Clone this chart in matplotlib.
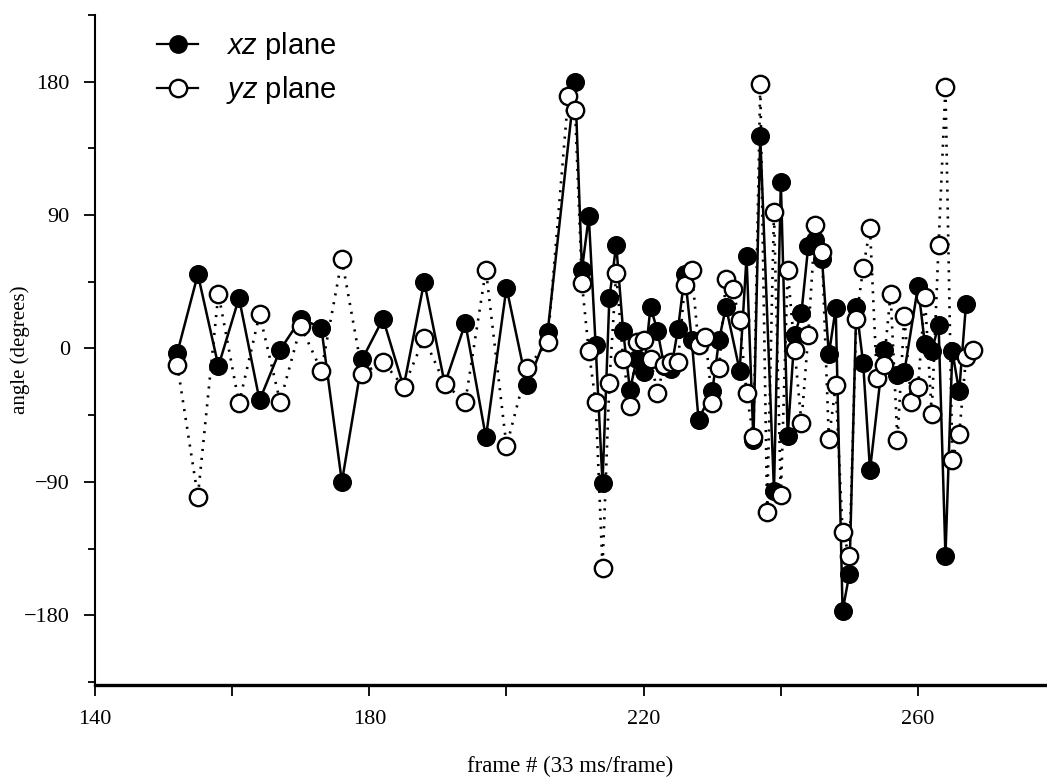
import matplotlib
matplotlib.use("Agg")
import matplotlib.pyplot as plt
from matplotlib.lines import Line2D
import numpy as np

# frames 152..206 were sampled every 3 frames, then every frame from 209 on
xz_frames = [152, 155, 158, 161, 164, 167, 170, 173, 176, 179, 182, 185, 188, 191, 194, 197, 200, 203, 206,
             210, 211, 212, 213, 214, 215, 216, 217, 218, 219, 220, 221, 222, 223, 224, 225, 226, 227, 228,
             230, 231, 232, 234, 235, 236, 237, 239, 240, 241, 242, 243, 244, 245, 246, 247, 248, 249, 250,
             251, 252, 253, 255, 257, 258, 260, 261, 262, 263, 264, 265, 266, 267]
xz_angle = [-3, 50, -12, 34, -35, -1, 20, 14, -90, -7, 20, -26, 45, -24, 17, -60, 41, -25, 11,
            180, 53, 89, 2, -91, 34, 70, 12, -28, -7, -16, 28, 12, -12, -14, 13, 50, 6, -48,
            -29, 6, 28, -15, 62, -62, 143, -96, 112, -59, 9, 24, 69, 73, 60, -4, 27, -177, -152,
            28, -10, -82, -1, -18, -16, 42, 3, -2, 16, -140, -2, -29, 30]

yz_frames = [152, 155, 158, 161, 164, 167, 170, 173, 176, 179, 182, 185, 188, 191, 194, 197, 200, 203, 206,
             209, 210, 211, 212, 213, 214, 215, 216, 217, 218, 219, 220, 221, 222, 223, 224, 225, 226, 227,
             228, 229, 230, 231, 232, 233, 234, 235, 236, 237, 238, 239, 240, 241, 242, 243, 244, 245, 246,
             247, 248, 249, 250, 251, 252, 253, 254, 255, 256, 257, 258, 259, 260, 261, 262, 263, 264, 265,
             266, 267, 268]
yz_angle = [-11, -100, 37, -37, 23, -36, 15, -15, 60, -17, -9, -26, 7, -24, -36, 53, -66, -13, 4,
            170, 161, 44, -2, -36, -148, -23, 51, -7, -39, 4, 6, -7, -30, -11, -9, -9, 43, 53,
            2, 8, -37, -13, 47, 40, 19, -30, -60, 178, -110, 92, -99, 53, -1, -50, 9, 83, 65,
            -61, -25, -124, -140, 20, 54, 81, -20, -11, 37, -62, 22, -36, -26, 35, -44, 70, 176, -75,
            -58, -6, -1]

x_ticks = [140, 180, 220, 260]
y_ticks = [-180, -90, 0, 90, 180]

plt.rcParams["font.family"] = ["Liberation Serif", "DejaVu Serif"]
plt.rcParams["mathtext.fontset"] = "custom"
plt.rcParams["mathtext.it"] = "Liberation Sans:italic"
plt.rcParams["mathtext.rm"] = "Liberation Sans"

fig = plt.figure(figsize=(10.47, 7.79), dpi=100)
ax = fig.add_axes([0.0907, 0.1207, 0.9073, 0.8603])

ax.plot(xz_frames, xz_angle, color="black", lw=1.8, marker="o", ms=12.5,
        mfc="black", mec="black", mew=1.2, zorder=2)
ax.plot(yz_frames, yz_angle, color="black", lw=1.9, ls=(0, (0.8, 2.6)), marker="o", ms=12.5,
        mfc="white", mec="black", mew=1.7, zorder=3)

ax.set_xlim(140, 278.5)
ax.set_ylim(-227, 225)
ax.set_xticks(x_ticks)
ax.set_xticks([160, 200, 240], minor=True)
ax.set_yticks(y_ticks)
ax.set_yticks([-225, -135, -45, 45, 135, 225], minor=True)
ax.set_yticklabels(["\u2212180", "\u221290", "0", "90", "180"])
ax.tick_params(which="both", direction="out", length=8, width=1.3, labelsize=16, pad=10)
ax.tick_params(axis="y", which="minor", length=5)

for side in ["top", "right"]:
    ax.spines[side].set_visible(False)
ax.spines["left"].set_linewidth(1.5)
ax.spines["bottom"].set_linewidth(2.4)

ax.set_xlabel("frame # (33 ms/frame)", fontsize=16.5)
ax.xaxis.set_label_coords(0.5, -0.106)
ax.set_ylabel("angle (degrees)", fontsize=15)
ax.yaxis.set_label_coords(-0.068, 0.5)

handles = [
    Line2D([], [], color="black", lw=1.6, marker="o", ms=12.5, mfc="black", mec="black"),
    Line2D([], [], color="black", lw=1.6, marker="o", ms=12.5, mfc="white", mec="black", mew=1.7),
]
leg = fig.legend(handles, [r"$xz$ plane", r"$yz$ plane"], loc="upper left",
                 bbox_to_anchor=(0.125, 0.995), frameon=False, handlelength=1.4,
                 handletextpad=0.95, labelspacing=0.42,
                 prop={"family": "Liberation Sans", "size": 21})

fig.savefig("out.png", dpi=100)
